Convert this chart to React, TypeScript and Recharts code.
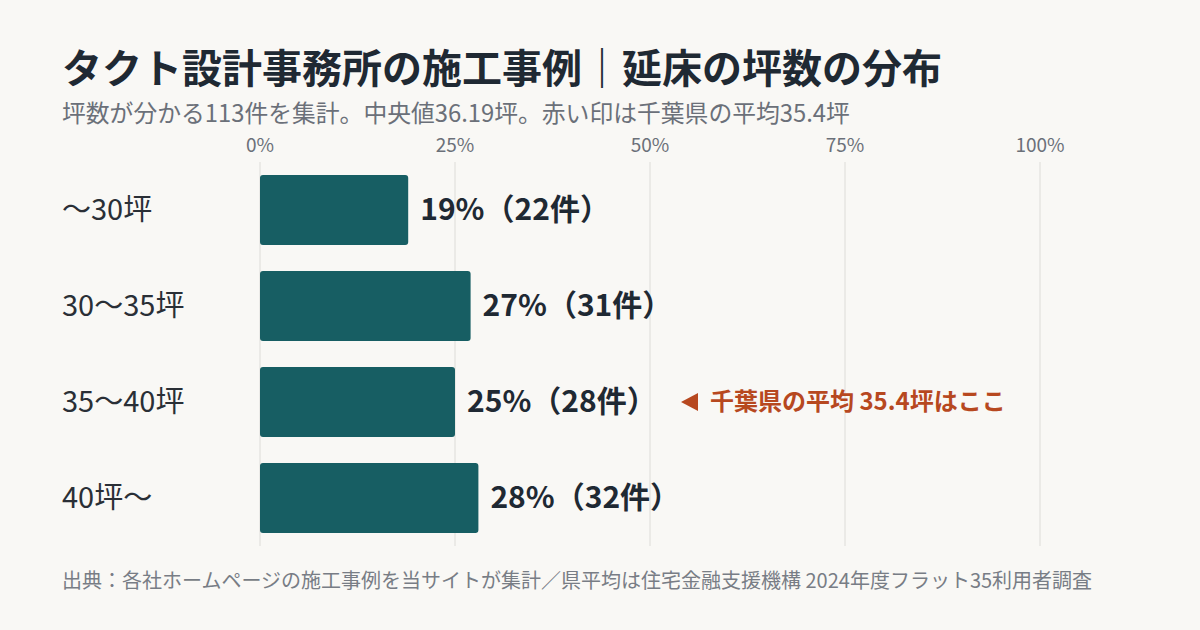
import { BarChart, Bar, XAxis, YAxis, CartesianGrid, LabelList } from "recharts";

const categories = ["～30坪", "30～35坪", "35～40坪", "40坪～"];
const shares = [19, 27, 25, 28];
const counts = [22, 31, 28, 32];
const xTicks = [0, 25, 50, 75, 100];
const chibaRow = 2;
const chibaNote = "千葉県の平均 35.4坪はここ";

const data = categories.map((name, i) => ({ name, share: shares[i], count: counts[i] }));

const FONT = '"Noto Sans CJK JP", "Noto Sans", sans-serif';
const colors = {
  bg: "#f9f8f5",
  bar: "#175e63",
  title: "#1f2933",
  muted: "#6b7079",
  grid: "#dddcd8",
  accent: "#b7481f",
};

function CategoryTick({ y, payload }: any) {
  return (
    <text x={62} y={y} dy={10} fill="#2a2f36" fontSize={29} fontFamily={FONT} textAnchor="start">
      {payload.value}
    </text>
  );
}

function PercentTick({ x, y, payload }: any) {
  return (
    <text x={x} y={y} dy={-2} fill={colors.muted} fontSize={19} fontFamily={FONT} textAnchor="middle">
      {`${payload.value}%`}
    </text>
  );
}

function BarLabel(props: any) {
  const { x, y, width, height, index } = props;
  const row = data[index];
  const cy = y + height / 2;
  const lx = x + width + 12;
  return (
    <g>
      <text x={lx} y={cy} dy={10} fill={colors.title} fontSize={30} fontWeight={700} fontFamily={FONT}>
        {`${row.share}%（${row.count}件）`}
      </text>
      {index === chibaRow && (
        <g>
          <polygon points={`681,${cy} 698,${cy - 9} 698,${cy + 9}`} fill={colors.accent} />
          <text x={710} y={cy} dy={8} fill={colors.accent} fontSize={24} fontWeight={700} fontFamily={FONT}>
            {chibaNote}
          </text>
        </g>
      )}
    </g>
  );
}

export default function App() {
  return (
    <div style={{ position: "fixed", left: 0, top: 0, width: 1200, height: 630, background: colors.bg, fontFamily: FONT, overflow: "hidden" }}>
      <div style={{ position: "absolute", left: 62, top: 40, fontSize: 40, fontWeight: 700, color: colors.title, whiteSpace: "nowrap", lineHeight: "52px" }}>
        タクト設計事務所の施工事例｜延床の坪数の分布
      </div>
      <div style={{ position: "absolute", left: 62, top: 97, fontSize: 23.8, color: colors.muted, whiteSpace: "nowrap", lineHeight: "30px" }}>
        坪数が分かる113件を集計。中央値36.19坪。赤い印は千葉県の平均35.4坪
      </div>
      <div style={{ position: "absolute", left: 0, top: 0 }}>
        <BarChart
          width={1200}
          height={630}
          data={data}
          layout="vertical"
          margin={{ top: 132, right: 160, bottom: 84, left: 0 }}
          barSize={70}
        >
          <CartesianGrid horizontal={false} stroke={colors.grid} />
          <XAxis
            type="number"
            orientation="top"
            domain={[0, 100]}
            ticks={xTicks}
            height={30}
            axisLine={false}
            tickLine={false}
            tick={<PercentTick />}
          />
          <YAxis type="category" dataKey="name" width={260} axisLine={false} tickLine={false} tick={<CategoryTick />} />
          <Bar dataKey="share" fill={colors.bar} radius={3} isAnimationActive={false}>
            <LabelList dataKey="share" content={<BarLabel />} />
          </Bar>
        </BarChart>
      </div>
      <div style={{ position: "absolute", left: 62, top: 566, fontSize: 20, color: "#787d85", whiteSpace: "nowrap", lineHeight: "28px" }}>
        出典：各社ホームページの施工事例を当サイトが集計／県平均は住宅金融支援機構 2024年度フラット35利用者調査
      </div>
    </div>
  );
}
